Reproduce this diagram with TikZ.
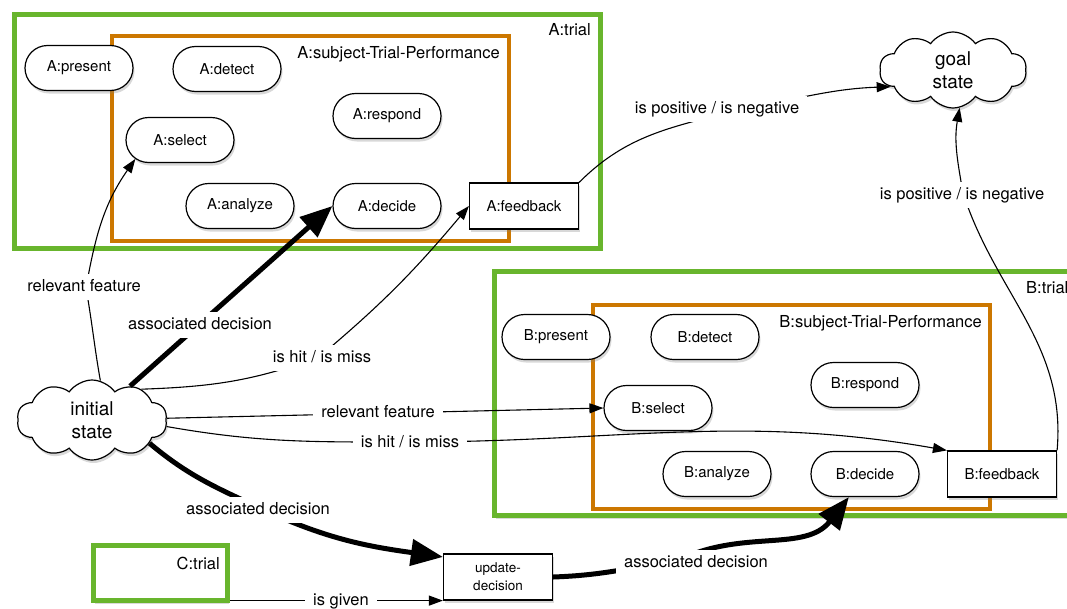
\documentclass[tikz,border=0pt]{standalone}
\usepackage{fontspec}
\setmainfont{TeX Gyre Heros}
\usetikzlibrary{shapes.misc,shapes.symbols,shadows,arrows.meta}
\definecolor{trialgreen}{RGB}{104,181,45}
\definecolor{perforange}{RGB}{204,119,0}
\tikzset{
  shad/.style={drop shadow={shadow xshift=1.5pt, shadow yshift=-3pt, opacity=0.3}},
  trialbox/.style={draw=trialgreen, line width=5pt, fill=white, shad, inner sep=0pt},
  perfbox/.style={draw=perforange, line width=4.2pt, inner sep=0pt},
  proc/.style={rounded rectangle, draw, line width=1.2pt, fill=white, shad, minimum width=108pt, minimum height=45pt, inner sep=0pt, font=\fontsize{15}{18}\selectfont},
  fb/.style={rectangle, draw, line width=1.2pt, fill=white, shad, minimum width=109pt, minimum height=46pt, inner sep=0pt, font=\fontsize{15}{18}\selectfont},
  statecloud/.style={cloud, cloud puffs=10, cloud puff arc=110, draw, line width=1.2pt, fill=white, shad, cloud ignores aspect, align=center, inner sep=0pt, font=\fontsize{19}{23}\selectfont},
  lbl/.style={fill=white, inner xsep=8pt, inner ysep=5pt, text height=12pt, text depth=3.5pt, font=\fontsize{16.5}{19}\selectfont},
  boxlbl/.style={inner sep=0pt, font=\fontsize{16.5}{19}\selectfont},
  conn/.style={line width=1.1pt, -{Triangle[length=14pt,width=10pt]}},
  bigconn/.style={line width=5pt, -{Triangle[length=32pt,width=26pt]}}
}
\begin{document}
\begin{tikzpicture}[x=1pt,y=1pt]
\useasboundingbox (0,0) rectangle (1067,-608);
\clip (0,0) rectangle (1067,-608);
% A trial
\node[trialbox, minimum width=586pt, minimum height=234pt] (Atrial) at (307,-131) {};
\node[perfbox, minimum width=397pt, minimum height=205pt] (Aperf) at (310.5,-138.5) {};
\node[boxlbl, anchor=east] (AtrialL) at (591,-30) {A:trial};
\node[boxlbl, anchor=east] (AperfL) at (500,-54) {A:subject-Trial-Performance};
\node[proc] (Apresent) at (79,-68) {A:present};
\node[proc] (Adetect) at (227,-69) {A:detect};
\node[proc] (Arespond) at (387,-116) {A:respond};
\node[proc] (Aselect) at (180,-140) {A:select};
\node[proc] (Aanalyze) at (240,-206) {A:analyze};
\node[proc] (Adecide) at (387,-206) {A:decide};
\node[fb] (Afeedback) at (524,-206) {A:feedback};
% B trial
\node[trialbox, minimum width=586pt, minimum height=244pt] (Btrial) at (787,-393.5) {};
\node[perfbox, minimum width=397pt, minimum height=204pt] (Bperf) at (791.5,-407) {};
\node[boxlbl, anchor=west] (BtrialL) at (1026,-288) {B:trial};
\node[boxlbl, anchor=east] (BperfL) at (982,-323) {B:subject-Trial-Performance};
\node[proc] (Bpresent) at (556,-337) {B:present};
\node[proc] (Bdetect) at (705,-337) {B:detect};
\node[proc] (Brespond) at (865,-385) {B:respond};
\node[proc] (Bselect) at (658,-408) {B:select};
\node[proc] (Banalyze) at (717,-474) {B:analyze};
\node[proc] (Bdecide) at (865,-474) {B:decide};
\node[fb] (Bfeedback) at (1002,-474) {B:feedback};
% states
\node[statecloud, minimum width=150pt, minimum height=80pt] (init) at (92,-420) {initial\\state};
\node[statecloud, minimum width=147pt, minimum height=76pt] (goal) at (953,-70) {goal\\state};
% C trial and update
\node[trialbox, minimum width=134pt, minimum height=55pt] (Ctrial) at (160.5,-573) {};
\node[boxlbl, anchor=east] (CtrialL) at (220,-563) {C:trial};
\node[fb, align=center, font=\fontsize{13.5}{18}\selectfont] (update) at (498,-577) {update-\\decision};
% label points
\coordinate (p1) at (86,-288);
\coordinate (p3) at (319,-357);
\coordinate (p5) at (408,-442);
\coordinate (p6) at (262,-509);
\coordinate (p8) at (681,-559);
\coordinate (p9) at (737,-110);
\coordinate (p10) at (963,-193);
% connectors
\draw[conn] (init.78) to[out=100,in=280] (p1) to[out=80,in=235] (Aselect.203);
\draw[bigconn] (init) -- (Adecide.west);
\draw[conn] (init.32) to[out=2,in=200] (p3) to[out=40,in=230] (Afeedback.west);
\draw[conn] (init) -- (Bselect.west);
\draw[conn] (init.-5) to[out=-10,in=180] (p5) to[out=0,in=170] (Bfeedback.north west);
\draw[bigconn] (init.-22) to[out=-40,in=155] (p6) to[out=-25,in=172] (update.160);
\draw[conn] (Ctrial.east |- update.south) -- (update.south west);
\draw[bigconn] (update.east) to[out=2,in=190] (p8) to[out=25,in=232] (Bdecide.235);
\draw[conn] (Afeedback.north east) to[out=45,in=195] (p9) to[out=10,in=182] (goal.195);
\draw[conn] (Bfeedback.north east) to[out=85,in=288] (p10) to[out=100,in=260] (goal.-80);
% connector labels
\node[lbl] (l1) at (84,-287) {relevant feature};
\node[lbl] (l2) at (200,-325) {associated decision};
\node[lbl] (l3) at (322,-358) {is hit / is miss};
\node[lbl] (l4) at (378,-413) {relevant feature};
\node[lbl] (l5) at (410,-443) {is hit / is miss};
\node[lbl] (l6) at (258,-510) {associated decision};
\node[lbl] (l7) at (341,-601) {is given};
\node[lbl] (l8) at (696,-563) {associated decision};
\node[lbl] (l9) at (717,-109) {is positive / is negative};
\node[lbl] (l10) at (962,-195) {is positive / is negative};
\end{tikzpicture}
\end{document}
